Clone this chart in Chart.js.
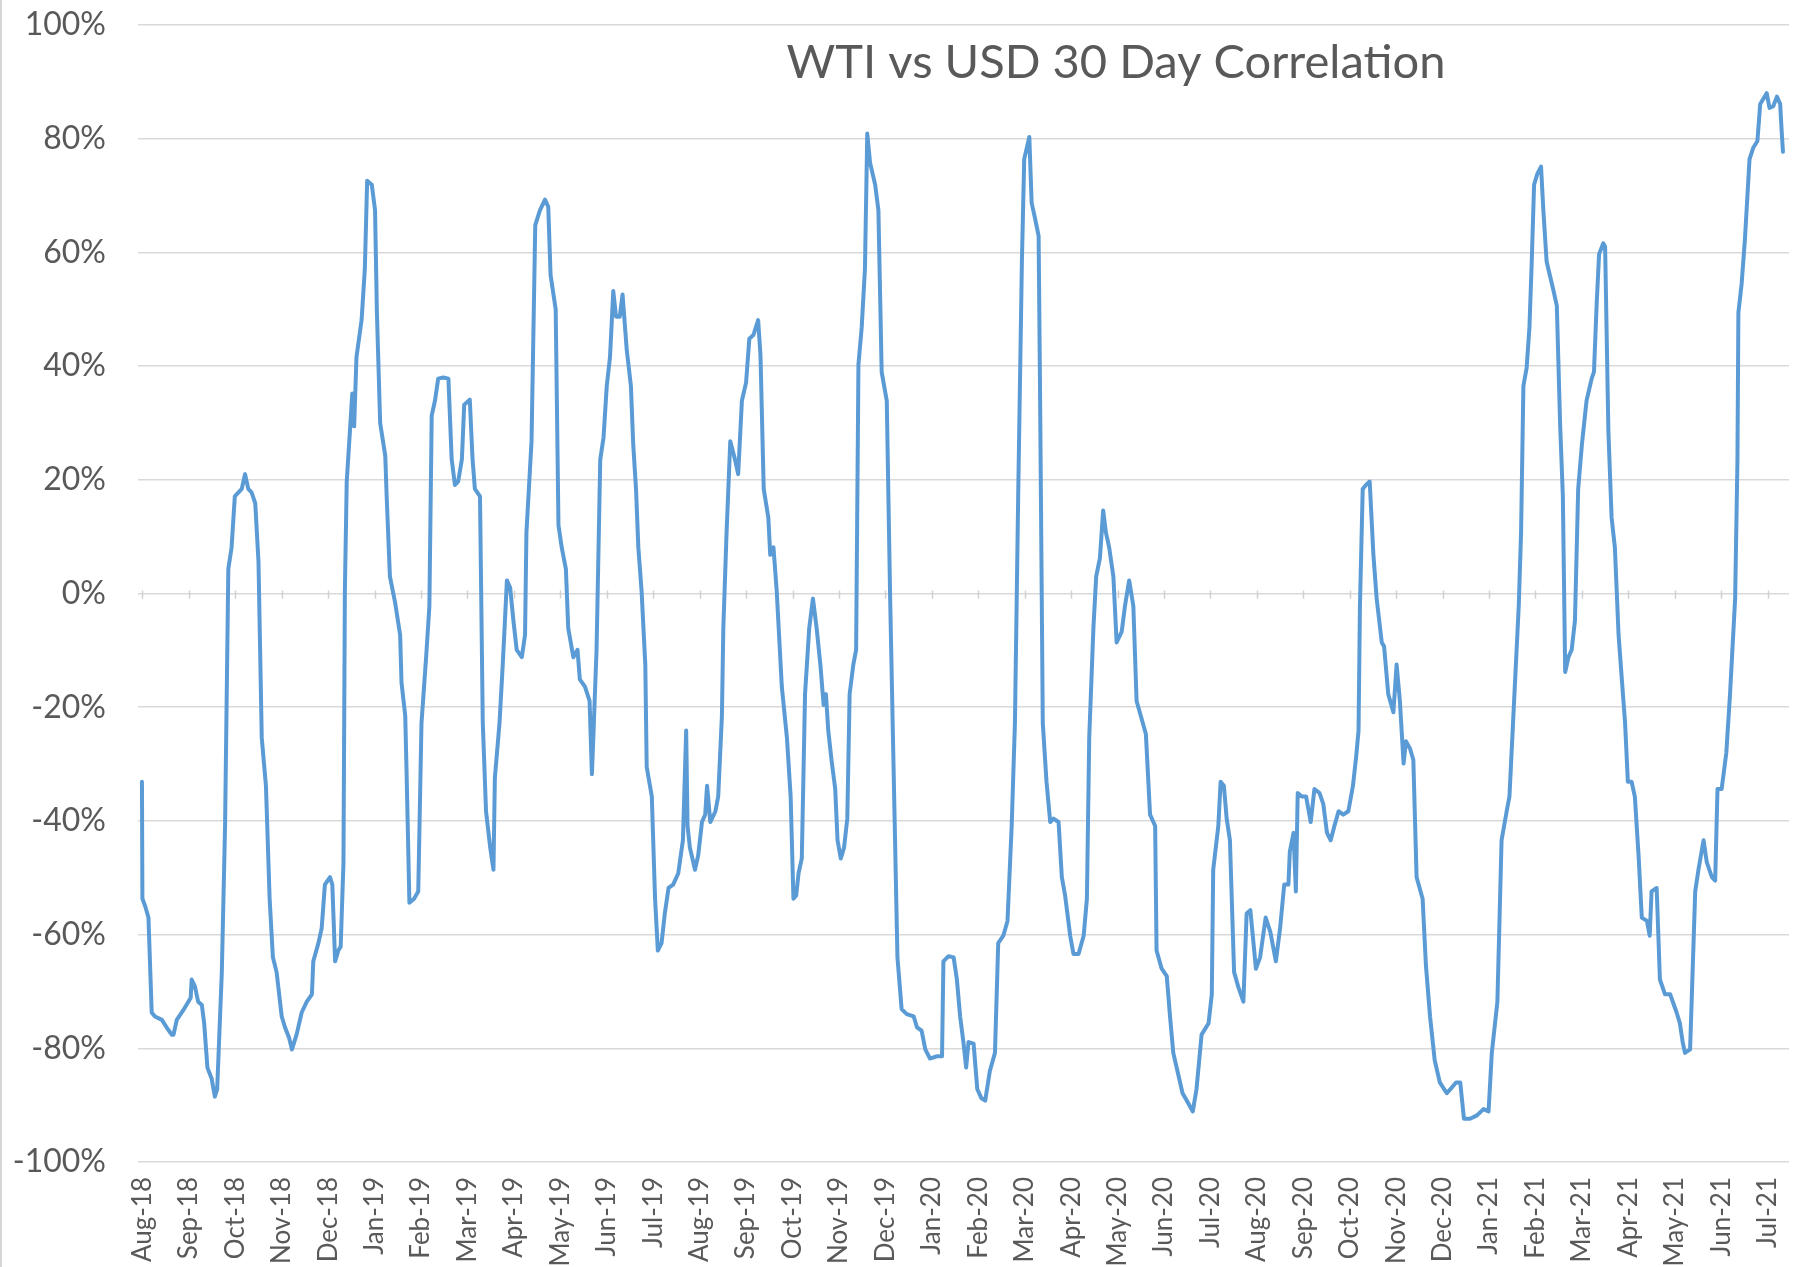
<!DOCTYPE html>
<html><head><meta charset="utf-8">
<script src="https://cdn.jsdelivr.net/npm/chart.js@4.4.1/dist/chart.umd.min.js"></script>
<style>html,body{margin:0;padding:0;background:#fff;overflow:hidden}#wrap{width:1801px;height:1267px;position:relative}</style>
</head><body><div id="wrap"><canvas id="c" width="1801" height="1267"></canvas></div>
<script>
const chartTitle = 'WTI vs USD 30 Day Correlation';
const months = ['Aug-18','Sep-18','Oct-18','Nov-18','Dec-18','Jan-19','Feb-19','Mar-19','Apr-19','May-19','Jun-19','Jul-19',
  'Aug-19','Sep-19','Oct-19','Nov-19','Dec-19','Jan-20','Feb-20','Mar-20','Apr-20','May-20','Jun-20','Jul-20',
  'Aug-20','Sep-20','Oct-20','Nov-20','Dec-20','Jan-21','Feb-21','Mar-21','Apr-21','May-21','Jun-21','Jul-21'];
// position of each reading, in months after the Aug-18 tick
const monthPos = [
-0.01,0.00,0.06,0.13,0.20,0.27,0.42,0.52,0.63,0.67,0.74,0.88,0.99,1.04,1.06,1.13,1.20,1.28,1.33,1.40,1.49,1.56,1.61,1.71,1.78,1.85,1.92,1.99,
2.07,2.14,2.21,2.28,2.35,2.43,2.50,2.57,2.66,2.74,2.81,2.89,3.00,3.07,3.16,3.22,3.32,3.43,3.54,3.65,3.68,3.79,3.86,3.93,
4.04,4.09,4.15,4.22,4.27,4.33,4.36,4.40,4.47,4.52,4.56,4.61,4.72,4.79,4.84,4.94,5.01,5.05,5.12,5.23,5.26,5.33,5.44,5.55,5.58,5.66,5.69,5.75,5.85,5.94,
6.01,6.11,6.18,6.23,6.30,6.37,6.48,6.59,6.66,6.73,6.80,6.88,6.93,7.05,7.11,7.16,7.27,7.33,7.40,7.49,7.56,7.59,7.69,7.76,7.85,7.92,7.99,
8.06,8.17,8.24,8.27,8.38,8.46,8.56,8.67,8.74,8.79,8.90,8.96,9.03,9.12,9.17,9.28,9.37,9.42,9.53,9.63,9.68,9.71,9.78,9.86,9.93,
10.00,10.07,10.14,10.20,10.28,10.34,10.43,10.52,10.57,10.63,10.68,10.75,10.83,10.86,10.97,11.04,11.10,11.18,11.25,11.33,11.43,11.54,11.64,11.71,11.74,11.79,11.90,11.97,
12.05,12.12,12.16,12.23,12.34,12.40,12.48,12.51,12.58,12.66,12.76,12.83,12.91,13.00,13.07,13.16,13.26,13.31,13.38,13.48,13.52,13.59,13.66,13.77,13.88,13.96,
14.02,14.08,14.13,14.20,14.27,14.36,14.44,14.52,14.60,14.67,14.72,14.77,14.84,14.92,14.97,15.04,15.11,15.18,15.23,15.31,15.37,15.42,15.49,15.56,15.61,15.67,15.78,15.85,15.92,
16.03,16.10,16.17,16.26,16.35,16.46,16.61,16.68,16.78,16.86,16.96,17.11,17.22,17.25,17.36,17.47,17.54,17.61,17.68,17.74,17.79,17.90,17.98,
18.07,18.15,18.25,18.36,18.43,18.54,18.63,18.72,18.79,18.86,18.94,18.99,19.10,19.15,19.22,19.30,19.33,19.39,19.47,19.55,19.62,19.73,19.80,19.87,19.98,
20.05,20.16,20.27,20.34,20.39,20.48,20.54,20.62,20.69,20.75,20.82,20.91,20.98,21.09,21.16,21.25,21.34,21.41,21.50,21.61,21.70,21.81,21.84,21.95,
22.06,22.13,22.20,22.31,22.40,22.49,22.62,22.70,22.81,22.96,23.03,23.06,23.17,23.22,23.29,23.35,23.42,23.51,23.60,23.71,23.78,23.86,23.98,
24.07,24.19,24.29,24.41,24.50,24.59,24.68,24.71,24.79,24.84,24.88,24.97,25.06,25.16,25.24,25.35,25.43,25.51,25.59,25.67,25.76,25.86,25.97,
26.07,26.14,26.19,26.22,26.28,26.35,26.43,26.51,26.58,26.69,26.74,26.83,26.94,27.01,27.08,27.16,27.21,27.30,27.37,27.44,27.57,27.64,27.73,27.83,27.94,
28.09,28.19,28.29,28.38,28.46,28.59,28.74,28.88,28.99,29.06,29.18,29.27,29.38,29.44,29.54,29.64,29.69,29.74,29.81,29.87,29.92,29.97,
30.04,30.12,30.17,30.24,30.39,30.46,30.53,30.59,30.64,30.71,30.78,30.85,30.92,31.00,31.10,31.21,31.26,31.32,31.37,31.46,31.50,31.57,31.64,31.71,31.79,31.86,31.93,31.99,
32.07,32.14,32.22,32.29,32.40,32.46,32.50,32.61,32.68,32.79,32.90,33.04,33.11,33.17,33.22,33.33,33.44,33.51,33.62,33.69,33.80,33.87,33.92,
34.01,34.11,34.19,34.30,34.35,34.37,34.44,34.51,34.61,34.69,34.78,34.84,34.98,35.04,35.12,35.20,35.27,35.30,35.33
];
// 30-day correlation, percent
const corr = [
-33.1,-53.7,-55.0,-57.0,-73.7,-74.4,-75.0,-76.3,-77.6,-77.6,-75.0,-73.3,-71.8,-71.1,-67.9,-69.1,-71.8,-72.4,-75.6,-83.4,-85.3,-88.5,-87.2,-66.6,-40.9,4.3,8.1,17.1,
17.8,18.4,21.0,18.4,17.8,15.9,5.5,-25.4,-33.8,-53.7,-64.0,-66.6,-74.4,-76.3,-78.2,-80.2,-77.6,-73.7,-71.8,-70.5,-64.7,-61.5,-58.9,-51.2,
-49.9,-51.2,-64.7,-62.8,-62.1,-47.3,0.4,19.7,28.7,35.2,29.4,41.6,48.1,57.1,72.6,71.9,67.4,49.4,30.0,24.2,17.1,3.0,-1.5,-7.3,-15.7,-21.5,-31.8,-54.4,-53.7,-52.4,
-22.8,-11.2,-2.2,31.3,33.9,37.8,38.0,37.8,23.6,19.1,19.7,23.6,33.2,34.1,23.6,18.4,17.1,-22.8,-38.3,-44.7,-48.6,-32.5,-22.8,-12.5,2.3,1.0,-4.8,
-9.9,-11.2,-7.3,10.7,26.8,64.8,67.4,69.3,68.0,56.0,50.0,12.0,8.1,4.3,-6.1,-11.2,-9.9,-15.1,-16.4,-18.9,-31.8,-25.4,-9.9,23.6,27.4,
36.5,41.6,53.2,48.7,48.7,52.6,42.9,36.5,26.2,18.4,8.1,0.4,-12.5,-30.5,-35.7,-53.7,-62.8,-61.5,-56.3,-51.8,-51.2,-49.2,-43.4,-24.1,-40.9,-44.7,-48.6,-46.0,
-40.2,-38.9,-33.8,-40.2,-38.3,-35.7,-21.5,-6.1,10.7,26.8,23.6,21.0,33.9,37.1,44.8,45.5,48.1,42.0,18.4,13.3,6.8,8.1,0.4,-16.4,-25.4,-35.7,
-53.7,-53.1,-49.2,-46.6,-17.7,-6.1,-0.9,-6.1,-12.5,-19.6,-17.7,-24.1,-29.3,-34.4,-43.4,-46.6,-44.7,-39.6,-17.7,-12.5,-9.9,40.3,46.8,57.1,80.9,75.8,71.9,67.4,39.0,
33.9,0.4,-28.0,-64.0,-73.1,-74.0,-74.4,-76.3,-76.9,-80.2,-81.8,-81.4,-81.4,-64.7,-63.8,-64.0,-67.9,-74.4,-78.9,-83.4,-78.9,-79.2,-87.2,
-88.8,-89.2,-84.0,-80.8,-61.5,-60.2,-57.6,-40.9,-22.8,17.1,58.4,76.4,80.3,68.7,66.1,62.9,36.5,-22.8,-33.1,-40.2,-39.6,-40.2,-49.9,-53.1,-60.2,
-63.4,-63.4,-60.2,-53.7,-25.4,-6.1,3.0,6.2,14.6,10.7,8.1,3.0,-8.6,-6.7,-2.2,2.3,-2.2,-18.9,-21.5,-24.7,-38.9,-40.9,-62.8,-66.0,
-67.3,-74.4,-80.8,-84.7,-87.9,-89.2,-91.1,-87.2,-77.6,-75.6,-70.5,-48.6,-40.9,-33.1,-33.8,-39.6,-43.4,-66.6,-69.2,-71.8,-56.3,-55.7,-66.0,
-64.0,-57.0,-59.5,-64.7,-58.9,-51.2,-51.2,-45.4,-42.1,-52.4,-35.1,-35.7,-35.7,-40.2,-34.4,-35.1,-37.0,-42.1,-43.4,-40.9,-38.3,-38.9,-38.3,
-33.8,-28.6,-24.1,-2.2,18.4,19.1,19.7,6.8,-0.9,-8.6,-9.3,-17.7,-20.9,-12.5,-18.9,-29.9,-26.0,-27.3,-29.3,-49.9,-53.7,-65.3,-74.4,-82.1,-86.0,
-87.9,-87.0,-86.0,-86.0,-92.4,-92.4,-91.8,-90.7,-91.1,-80.8,-71.8,-43.4,-38.3,-35.7,-18.9,-2.2,10.7,36.5,39.7,46.8,58.4,71.9,
73.8,75.1,67.4,58.4,53.2,50.6,30.0,17.1,-13.8,-11.2,-9.9,-4.8,18.4,26.2,33.9,37.8,39.0,51.3,59.7,61.6,61.0,28.7,13.3,8.1,-7.3,-15.1,-22.8,-33.1,
-33.1,-35.7,-46.0,-57.0,-57.6,-60.2,-52.4,-51.8,-67.9,-70.5,-70.5,-73.7,-75.6,-78.9,-80.8,-80.2,-52.4,-48.6,-43.4,-47.3,-49.9,-50.5,-34.4,
-34.4,-28.0,-17.7,-0.9,23.6,49.4,54.5,62.2,76.4,78.4,79.6,86.1,88.0,85.4,85.7,87.4,86.1,81.6,77.7
];
const yMin = -100, yMax = 100, yStep = 20;

const points = monthPos.map((m, i) => ({ x: m, y: corr[i] }));
const TEXT = '#595959';
const FONT = 'Lato';

const extras = {
  id: 'extras',
  beforeDraw(chart) {
    const ctx = chart.ctx;
    ctx.save();
    ctx.fillStyle = '#d6d6d6';
    ctx.fillRect(0, 0, 2, chart.height);
    ctx.restore();
  },
  beforeDatasetsDraw(chart) {
    const { ctx, scales: { x, y } } = chart;
    const y0 = y.getPixelForValue(0);
    ctx.save();
    ctx.strokeStyle = '#d0d0d0';
    ctx.lineWidth = 1.5;
    months.forEach((_, i) => {
      const px = Math.round(x.getPixelForValue(i)) + 0.5;
      ctx.beginPath();
      ctx.moveTo(px, y0 - 3);
      ctx.lineTo(px, y0 + 5);
      ctx.stroke();
    });
    ctx.restore();
  },
  afterDraw(chart) {
    const ctx = chart.ctx;
    ctx.save();
    ctx.font = '48px ' + FONT;
    const w = ctx.measureText(chartTitle).width;
    const size = 48 * 659 / w;
    ctx.font = size.toFixed(2) + 'px ' + FONT;
    ctx.fillStyle = TEXT;
    ctx.textAlign = 'center';
    ctx.textBaseline = 'alphabetic';
    ctx.fillText(chartTitle, 1116, 78);
    ctx.restore();
  }
};

new Chart(document.getElementById('c'), {
  type: 'scatter',
  data: { datasets: [{
    data: points,
    showLine: true,
    borderColor: '#5B9BD5',
    backgroundColor: '#5B9BD5',
    borderWidth: 4,
    pointRadius: 0,
    tension: 0,
    borderJoinStyle: 'round',
    borderCapStyle: 'round',
    fill: false
  }]},
  options: {
    responsive: false,
    animation: false,
    devicePixelRatio: 1,
    layout: { padding: { top: 25, right: 12, bottom: 0, left: 0 } },
    plugins: { legend: { display: false }, tooltip: { enabled: false }, title: { display: false } },
    scales: {
      x: {
        type: 'linear',
        min: -0.095, max: 35.46,
        afterBuildTicks(s) { s.ticks = months.map((_, i) => ({ value: i })); },
        afterFit(s) { s.height = 105; s.paddingLeft = 0; s.paddingRight = 0; },
        grid: { display: false, drawTicks: false },
        border: { display: false },
        ticks: {
          autoSkip: false, maxRotation: 90, minRotation: 90,
          padding: 15, color: TEXT,
          font: { family: FONT, size: 26 },
          callback: (v) => months[v]
        }
      },
      y: {
        min: yMin, max: yMax,
        afterFit(s) { s.width = 138; s.paddingTop = 0; s.paddingBottom = 0; },
        grid: { color: '#d9d9d9', lineWidth: 1.5, drawTicks: false },
        border: { display: false },
        ticks: {
          stepSize: yStep, padding: 32, color: TEXT,
          font: { family: FONT, size: 32 },
          callback: (v) => v + '%'
        }
      }
    }
  },
  plugins: [extras]
});
</script>
</body></html>
